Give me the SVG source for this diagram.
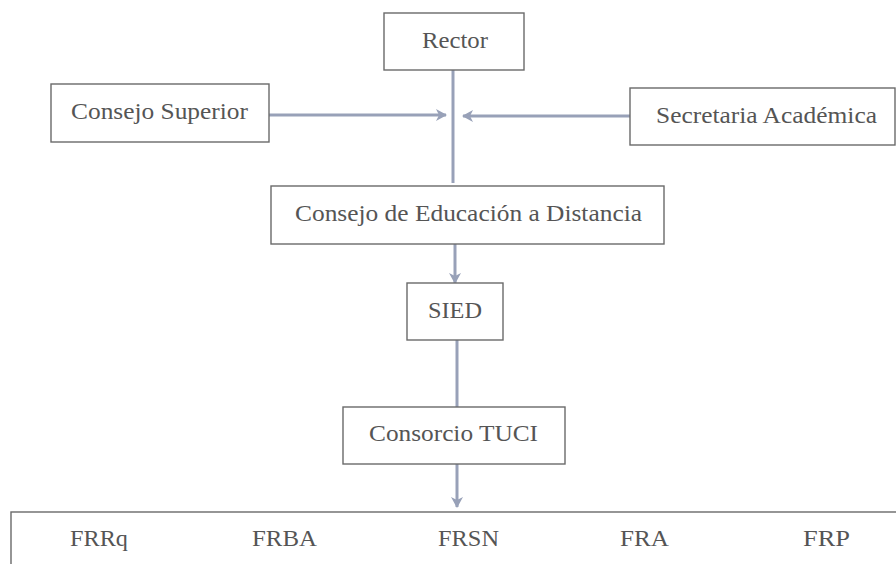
<svg xmlns="http://www.w3.org/2000/svg" width="896" height="564" viewBox="0 0 896 564">
<defs>
<marker id="ah" markerWidth="12" markerHeight="12" refX="10" refY="6" orient="auto" markerUnits="userSpaceOnUse">
<path d="M0,0 L11,6 L0,12 L3,6 Z" fill="#98a1b8"/>
</marker>
<style>
.box{fill:#fff;stroke:#6a6a6a;stroke-width:1.4}
.t{font-family:'Liberation Serif','DejaVu Serif',serif;font-size:23px;fill:#555}
.c{stroke:#98a1b8;stroke-width:3;fill:none}
</style>
</defs>
<rect width="896" height="564" fill="#fff"/>
<g id="connectors">
<line class="c" x1="453" y1="70" x2="453" y2="183"/>
<line class="c" x1="269" y1="115" x2="446" y2="115" marker-end="url(#ah)"/>
<line class="c" x1="630" y1="116" x2="463" y2="116" marker-end="url(#ah)"/>
<line class="c" x1="455" y1="244" x2="455" y2="283" marker-end="url(#ah)"/>
<line class="c" x1="457" y1="340" x2="457" y2="407"/>
<line class="c" x1="457" y1="464" x2="457" y2="507" marker-end="url(#ah)"/>
</g>
<g id="rector">
<rect class="box" x="384" y="13" width="140" height="57"/>
<text class="t" x="422" y="48" textLength="66" lengthAdjust="spacingAndGlyphs">Rector</text>
</g>
<g id="consejo-superior">
<rect class="box" x="51" y="84" width="218" height="58"/>
<text class="t" x="71" y="119" textLength="177" lengthAdjust="spacingAndGlyphs">Consejo Superior</text>
</g>
<g id="secretaria">
<rect class="box" x="630" y="88" width="265" height="57"/>
<text class="t" x="656" y="123" textLength="221" lengthAdjust="spacingAndGlyphs">Secretaria Académica</text>
</g>
<g id="ced">
<rect class="box" x="271" y="186" width="393" height="58"/>
<text class="t" x="295" y="221" textLength="347" lengthAdjust="spacingAndGlyphs">Consejo de Educación a Distancia</text>
</g>
<g id="sied">
<rect class="box" x="407" y="283" width="96" height="57"/>
<text class="t" x="428" y="318" textLength="54" lengthAdjust="spacingAndGlyphs">SIED</text>
</g>
<g id="consorcio">
<rect class="box" x="343" y="407" width="222" height="57"/>
<text class="t" x="369" y="441" textLength="169" lengthAdjust="spacingAndGlyphs">Consorcio TUCI</text>
</g>
<g id="facultades">
<rect class="box" x="11" y="512" width="900" height="70"/>
<text class="t" x="70" y="546" textLength="58" lengthAdjust="spacingAndGlyphs">FRRq</text>
<text class="t" x="252" y="546" textLength="65" lengthAdjust="spacingAndGlyphs">FRBA</text>
<text class="t" x="438" y="546" textLength="61" lengthAdjust="spacingAndGlyphs">FRSN</text>
<text class="t" x="620" y="546" textLength="49" lengthAdjust="spacingAndGlyphs">FRA</text>
<text class="t" x="803" y="546" textLength="47" lengthAdjust="spacingAndGlyphs">FRP</text>
</g>
</svg>
